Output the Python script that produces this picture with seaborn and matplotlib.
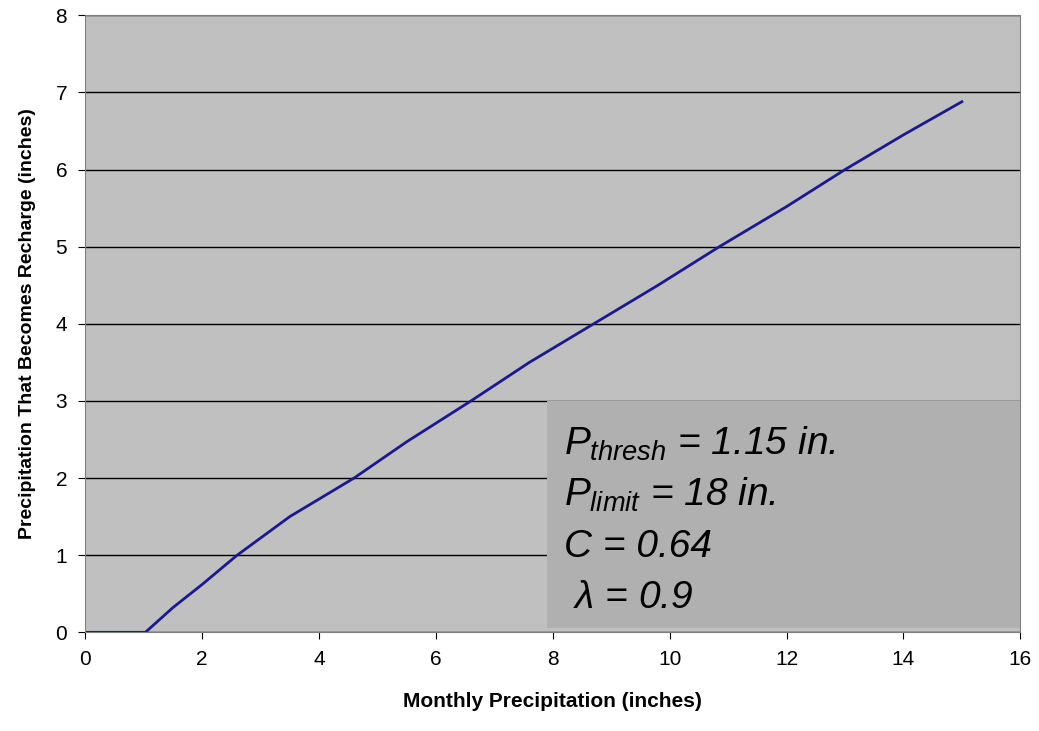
import matplotlib
matplotlib.use("Agg")
import matplotlib.pyplot as plt
import seaborn as sns
import pandas as pd

# ── Data ──────────────────────────────────────────────────────────────────────
precip   = [0, 0.5, 1.03, 1.5, 2.0, 2.6, 3.5, 4.6, 5.5, 6.6, 7.6, 8.7, 9.8, 10.85, 12.0, 13.0, 14.0, 15.0]
recharge = [0, 0, 0, 0.32, 0.62, 1.0, 1.5, 2.0, 2.47, 3.0, 3.5, 4.0, 4.5, 5.0, 5.52, 6.0, 6.45, 6.88]
df = pd.DataFrame({"precip": precip, "recharge": recharge})

NAVY = "#1a1a8c"
plt.rcParams["font.family"] = ["Liberation Sans", "DejaVu Sans"]
plt.rcParams["mathtext.fontset"] = "custom"
plt.rcParams["mathtext.it"] = "Liberation Sans:italic"
plt.rcParams["mathtext.rm"] = "Liberation Sans"

fig = plt.figure(figsize=(10.39, 7.31), dpi=100)
ax = fig.add_axes([0.082, 0.135, 0.9, 0.844])
ax.set_facecolor("#c0c0c0")

sns.lineplot(data=df, x="precip", y="recharge", color=NAVY, lw=2, ax=ax)

ax.set_xlim(0, 16); ax.set_ylim(0, 8)
ax.set_xticks(range(0, 17, 2)); ax.set_yticks(range(0, 9))
ax.yaxis.grid(True, color="black", lw=1)
ax.set_axisbelow(True)
for s in ax.spines.values():
    s.set_color("#808080")
ax.tick_params(labelsize=15, direction="out", length=5, pad=8)
ax.set_xlabel("Monthly Precipitation (inches)", fontsize=15, fontweight="bold", labelpad=16)
ax.set_ylabel("Precipitation That Becomes Recharge (inches)", fontsize=14, fontweight="bold", labelpad=14)

# parameter box
ax.add_patch(plt.Rectangle((7.9, 0.05), 8.1, 2.95, facecolor="#b0b0b0", edgecolor="none", zorder=3))
lines = [r"$P_{thresh}$ = 1.15 in.", r"$P_{limit}$ = 18 in.", "C = 0.64", r" $\lambda$ = 0.9"]
for i, t in enumerate(lines):
    ax.text(8.2, 2.45 - i * 0.67, t, fontsize=28, style="italic", va="center", zorder=4)

fig.savefig("out.png", dpi=100)
